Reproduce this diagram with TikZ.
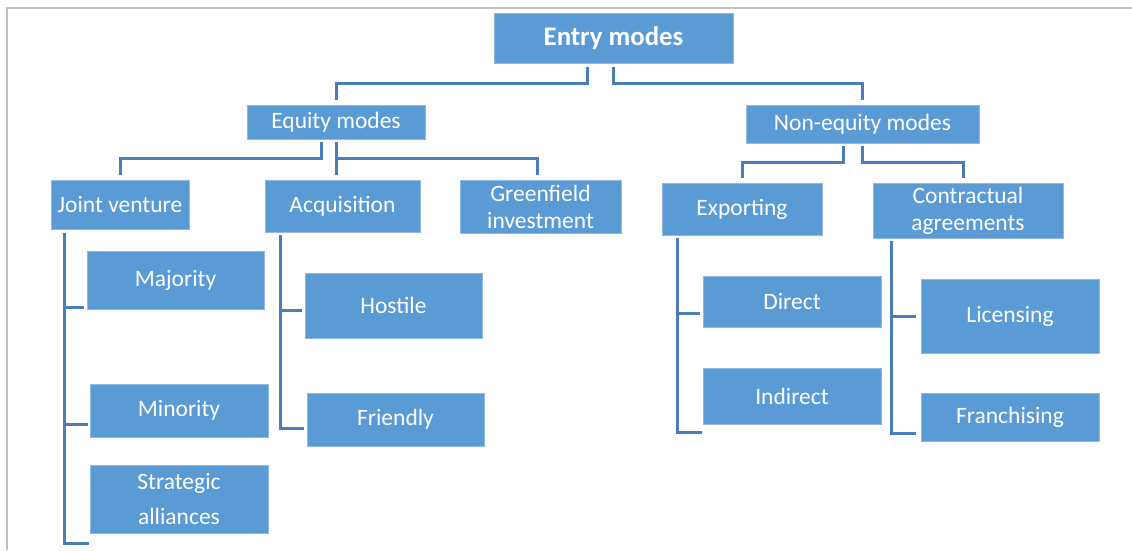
\documentclass[tikz,border=0pt]{standalone}
\usepackage{fontspec}
\setmainfont{Carlito}
\usetikzlibrary{calc}
\definecolor{boxblue}{HTML}{5B9BD5}
\definecolor{boxedge}{HTML}{8FB8E2}
\definecolor{linkblue}{HTML}{4A7EBB}
\definecolor{framegray}{HTML}{BFBFBF}
\tikzset{
  mbox/.style={fill=boxblue, draw=boxedge, line width=0.8pt, text=white,
    inner sep=0pt, outer sep=0pt, align=center,
    font=\fontsize{23.5}{27}\selectfont},
  link/.style={draw=linkblue, line width=3pt},
}
\begin{document}
\begin{tikzpicture}[x=1pt, y=-1pt]
\useasboundingbox (0,0) rectangle (1132,550);
% page frame
\draw[framegray, line width=2pt] (7,550) -- (7,7.5) -- (1132,7.5);

% boxes
\node[mbox, minimum width=239, minimum height=50, font=\fontsize{26.8}{31}\selectfont\bfseries] (entry) at (613.5,38) {Entry modes};
\node[mbox, minimum width=178, minimum height=34] (equity) at (336,122) {Equity modes};
\node[mbox, minimum width=233, minimum height=38] (noneq) at (862.5,124) {Non-equity modes};
\node[mbox, minimum width=138, minimum height=49] (jv) at (120,204.5) {Joint venture};
\node[mbox, minimum width=155, minimum height=52] (acq) at (342.5,206) {Acquisition};
\node[mbox, minimum width=161, minimum height=53] (green) at (540.5,206.5) {Greenfield\\investment};
\node[mbox, minimum width=160, minimum height=52] (exp) at (742,209) {Exporting};
\node[mbox, minimum width=190, minimum height=55] (contr) at (968,210.5) {Contractual\\agreements};
\node[mbox, minimum width=177, minimum height=58] (major) at (175.5,280) {Majority};
\node[mbox, minimum width=178, minimum height=53] (minor) at (179,410.5) {Minority};
\node[mbox, minimum width=178, minimum height=68, font=\fontsize{23.5}{35}\selectfont] (strat) at (179,499) {Strategic\\alliances};
\node[mbox, minimum width=177, minimum height=65] (hostile) at (393.5,305.5) {Hostile};
\node[mbox, minimum width=177, minimum height=53] (friendly) at (395.5,419.5) {Friendly};
\node[mbox, minimum width=178, minimum height=51] (direct) at (792,301.5) {Direct};
\node[mbox, minimum width=178, minimum height=56] (indirect) at (792,396) {Indirect};
\node[mbox, minimum width=178, minimum height=74] (licens) at (1010,316) {Licensing};
\node[mbox, minimum width=178, minimum height=48] (franch) at (1010,417) {Franchising};

% top level
\draw[link] ($(entry.south)+(-26.5,4)$) -- ++(0,16) -| ($(equity.north)+(0,-5)$);
\draw[link] ($(entry.south)+(0,4)$) -- ++(0,16) -| ($(noneq.north)+(0,-5)$);

% equity modes
\draw[link] ($(equity.south)+(-15,3)$) -- ++(0,16) -| ($(jv.north)+(0,-5)$);
\draw[link] ($(equity.south)+(0,3)$) -- ($(equity.south |- acq.north)+(0,-5)$);
\draw[link] ($(equity.south)+(0,19)$) -| ($(green.north)+(-3.5,-5)$);

% non-equity modes
\draw[link] ($(noneq.south)+(-19.5,3)$) -- ++(0,16) -| ($(exp.north)+(0,-5)$);
\draw[link] ($(noneq.south)+(0,3)$) -- ++(0,16) -| ($(contr.north)+(-5,-5)$);

% joint venture
\draw[link] ($(jv.south west)+(13,4)$) |- ($(strat.south west)+(-1,10)$);
\draw[link] ($(jv.south west |- major.south)+(13,-2)$) -- ($(major.south west)+(-3,-2)$);
\draw[link] ($(jv.south west |- minor.south)+(13,-13)$) -- ($(minor.south west)+(-2,-13)$);

% acquisition
\draw[link] ($(acq.south west)+(15,3)$) |- ($(friendly.south west)+(-3,-18)$);
\draw[link] ($(acq.south west |- hostile.south)+(15,-28)$) -- ($(hostile.south west)+(-3,-28)$);

% exporting
\draw[link] ($(exp.south west)+(15,3)$) |- ($(indirect.south west)+(-1,8)$);
\draw[link] ($(exp.south west |- direct.south)+(15,-14)$) -- ($(direct.south west)+(-3,-14)$);

% contractual agreements
\draw[link] ($(contr.south west)+(18,3)$) |- ($(franch.south west)+(-5,-8)$);
\draw[link] ($(contr.south west |- licens.west)+(18,0)$) -- ($(licens.west)+(-5,0)$);
\end{tikzpicture}
\end{document}
